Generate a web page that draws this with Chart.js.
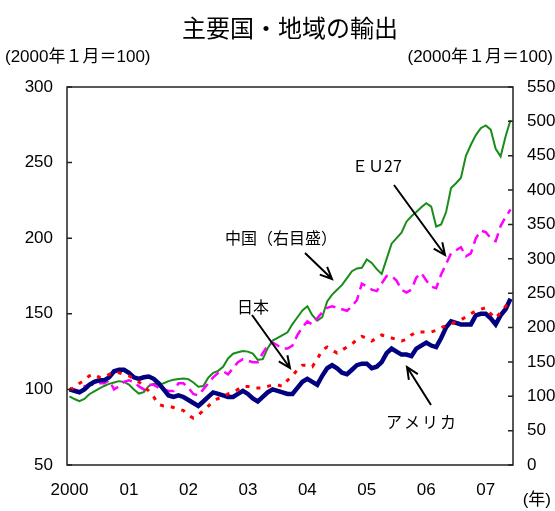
<!DOCTYPE html>
<html lang="ja">
<head>
<meta charset="utf-8">
<title>主要国・地域の輸出</title>
<script src="https://cdn.jsdelivr.net/npm/chart.js@4.4.1/dist/chart.umd.min.js"></script>
<style>
  html, body { margin: 0; padding: 0; background: #fff; }
  canvas { display: block; }
</style>
</head>
<body>
<canvas id="exportChart" width="555" height="511"></canvas>
<script>
// monthly, Jan 2000 .. Jun 2007 (2000年1月=100)
const years = ['2000', '01', '02', '03', '04', '05', '06', '07'];

const china = [
  100, 96, 93, 96, 103, 107, 111, 115, 118, 120, 122, 121,
  117, 110, 104, 106, 115, 118, 117, 119, 122, 124, 125, 126,
  125, 120, 114, 115, 127, 134, 137, 143, 155, 162, 164, 166,
  165, 162, 153, 154, 170, 181, 185, 189, 193, 205, 215, 225,
  231, 218, 210, 215, 238, 248, 255, 262, 272, 282, 286, 287,
  299, 294, 285, 278, 300, 322, 330, 338, 354, 362, 368, 375,
  381, 376, 347, 350, 368, 403, 410, 418, 450, 466, 480, 490,
  494, 488, 460, 449, 478, 502
];
const eu27 = [
  100, 100, 99, 102, 103, 103, 104, 104, 106, 100, 102, 105,
  106, 105, 102, 100, 103, 103, 101, 100, 99, 99, 104, 104,
  101, 97, 96, 100, 104, 108, 111, 112, 110, 114, 118, 120,
  119, 118, 118, 124, 129, 131, 129, 127, 127, 129, 136, 141,
  145, 143, 147, 151, 154, 155, 154, 153, 152, 155, 159, 170,
  168, 166, 165, 170, 175, 175, 172, 166, 164, 166, 174, 177,
  172, 168, 167, 176, 183, 190, 192, 194, 188, 190, 200, 205,
  204, 200, 198, 208, 214, 219
];
const japan = [
  100, 101, 104, 106, 109, 110, 108, 108, 110, 111, 111, 110,
  109, 107, 105, 102, 99, 95, 90, 89, 89, 88, 87, 86,
  83, 81, 83, 86, 89, 92, 94, 95, 97, 98, 100, 102,
  102, 101, 101, 101, 102, 103, 103, 102, 106, 109, 113, 116,
  116, 115, 120, 126, 128, 126, 124, 126, 128, 130, 133, 135,
  134, 132, 134, 136, 135, 134, 133, 132, 133, 136, 138, 138,
  138, 138, 139, 141, 142, 143, 145, 146, 148, 150, 152, 153,
  154, 150, 147, 151, 155, 158
];
const usa = [
  100, 99, 98, 100, 103, 105, 106, 106, 108, 112, 113, 113,
  111, 108, 107, 108, 108.5, 107, 104, 100, 96, 95, 96, 95,
  93, 91, 89, 92, 95, 98, 97, 96, 95, 95, 97, 99,
  97, 94, 92, 95, 98, 100, 99, 98, 97, 97, 101, 105,
  107, 105, 103, 109, 114, 116, 114, 111, 110, 113, 116, 117,
  117, 114, 115, 118, 124, 127, 125, 123, 123, 122, 127, 129,
  131, 129, 128, 134, 141, 145, 144, 143, 143, 143, 149, 150,
  150, 147, 143, 149, 153, 160
];

const leftTicks = [50, 100, 150, 200, 250, 300];
const rightTicks = [0, 50, 100, 150, 200, 250, 300, 350, 400, 450, 500, 550];

const monthLabels = china.map((_, i) => (2000 + Math.floor(i / 12)) + '/' + (i % 12 + 1));

const FONT = "'Liberation Sans', Arial, 'Noto Sans CJK JP', sans-serif";
const JP_FONT = "'Noto Sans CJK JP', 'Liberation Sans', sans-serif";

// text labels with arrows pointing at the lines
const notes = [
  { text: '中国（右目盛）', x: 281, y: 238, spacing: 0, from: [305, 253], to: [332, 279] },
  { text: 'ＥＵ27', x: 377, y: 166, spacing: 0, from: [394, 185], to: [445, 255] },
  { text: '日本', x: 253, y: 307, spacing: 0, from: [252, 315], to: [290, 368] },
  { text: 'アメリカ', x: 421, y: 422, spacing: 2, from: [431, 405], to: [407, 367] }
];

function drawArrow(ctx, x1, y1, x2, y2) {
  const a = Math.atan2(y2 - y1, x2 - x1);
  const h = 13, s = 0.42;
  ctx.beginPath();
  ctx.moveTo(x1, y1);
  ctx.lineTo(x2, y2);
  ctx.moveTo(x2 - h * Math.cos(a - s), y2 - h * Math.sin(a - s));
  ctx.lineTo(x2, y2);
  ctx.lineTo(x2 - h * Math.cos(a + s), y2 - h * Math.sin(a + s));
  ctx.stroke();
}

const decorations = {
  id: 'decorations',
  afterDatasetsDraw(chart) {
    const ctx = chart.ctx;
    const area = chart.chartArea;
    ctx.save();

    // plot frame
    ctx.strokeStyle = '#222';
    ctx.lineWidth = 1.5;
    ctx.strokeRect(area.left, area.top, area.right - area.left, area.bottom - area.top);

    // inward tick marks on both value axes
    const left = chart.scales.y, right = chart.scales.y2;
    ctx.beginPath();
    left.ticks.forEach((t, i) => {
      const y = left.getPixelForTick(i);
      ctx.moveTo(area.left, y);
      ctx.lineTo(area.left + 5, y);
    });
    right.ticks.forEach((t, i) => {
      const y = right.getPixelForTick(i);
      ctx.moveTo(area.right, y);
      ctx.lineTo(area.right - 5, y);
    });
    ctx.stroke();

    // annotations
    ctx.fillStyle = '#000';
    ctx.strokeStyle = '#000';
    ctx.lineWidth = 2;
    ctx.font = '16px ' + JP_FONT;
    ctx.textAlign = 'center';
    ctx.textBaseline = 'middle';
    notes.forEach(n => {
      ctx.letterSpacing = n.spacing + 'px';
      ctx.fillText(n.text, n.x + n.spacing / 2, n.y);
      drawArrow(ctx, n.from[0], n.from[1], n.to[0], n.to[1]);
    });
    ctx.letterSpacing = '0px';

    // title and unit captions
    ctx.font = '24px ' + JP_FONT;
    ctx.fillText('主要国・地域の輸出', 290, 28);

    ctx.font = '17px ' + FONT;
    ctx.textAlign = 'left';
    ctx.fillText('(2000年１月＝100)', 5, 57);
    ctx.textAlign = 'right';
    ctx.fillText('(2000年１月＝100)', 553, 57);
    ctx.fillText('(年)', 551, 500);

    ctx.restore();
  }
};

const tickFont = { family: FONT, size: 17 };

new Chart(document.getElementById('exportChart'), {
  type: 'line',
  data: {
    labels: monthLabels,
    datasets: [
      { label: '日本', data: japan, yAxisID: 'y', borderColor: '#ff0000', borderWidth: 3, borderDash: [4, 7] },
      { label: 'アメリカ', data: usa, yAxisID: 'y', borderColor: '#000080', borderWidth: 4.5 },
      { label: 'ＥＵ27', data: eu27, yAxisID: 'y', borderColor: '#ff00ff', borderWidth: 2.5, borderDash: [10, 6] },
      { label: '中国', data: china, yAxisID: 'y2', borderColor: '#1a8c1a', borderWidth: 2 }
    ]
  },
  options: {
    responsive: false,
    animation: false,
    elements: {
      point: { radius: 0 },
      line: { tension: 0, fill: false, borderCapStyle: 'butt' }
    },
    layout: { padding: { top: 87, left: 0, right: 0, bottom: 0 } },
    plugins: {
      legend: { display: false },
      tooltip: { enabled: false },
      title: { display: false }
    },
    scales: {
      x: {
        type: 'category',
        offset: true,
        grid: { display: false, drawTicks: false },
        border: { display: false },
        ticks: {
          autoSkip: false,
          maxRotation: 0,
          padding: 15,
          color: '#000',
          font: tickFont,
          callback: (v, i) => (i % 12 === 0 ? years[i / 12] : '')
        },
        afterFit: s => { s.height = 46; }
      },
      y: {
        position: 'left',
        min: leftTicks[0],
        max: leftTicks[leftTicks.length - 1],
        grid: { display: false, drawTicks: false },
        border: { display: false },
        ticks: { stepSize: leftTicks[1] - leftTicks[0], padding: 14, color: '#000', font: tickFont },
        afterFit: s => { s.width = 67; }
      },
      y2: {
        position: 'right',
        min: rightTicks[0],
        max: rightTicks[rightTicks.length - 1],
        grid: { display: false, drawTicks: false },
        border: { display: false },
        ticks: { stepSize: rightTicks[1] - rightTicks[0], padding: 14, color: '#000', font: tickFont },
        afterFit: s => { s.width = 42; }
      }
    }
  },
  plugins: [decorations]
});
</script>
</body>
</html>
